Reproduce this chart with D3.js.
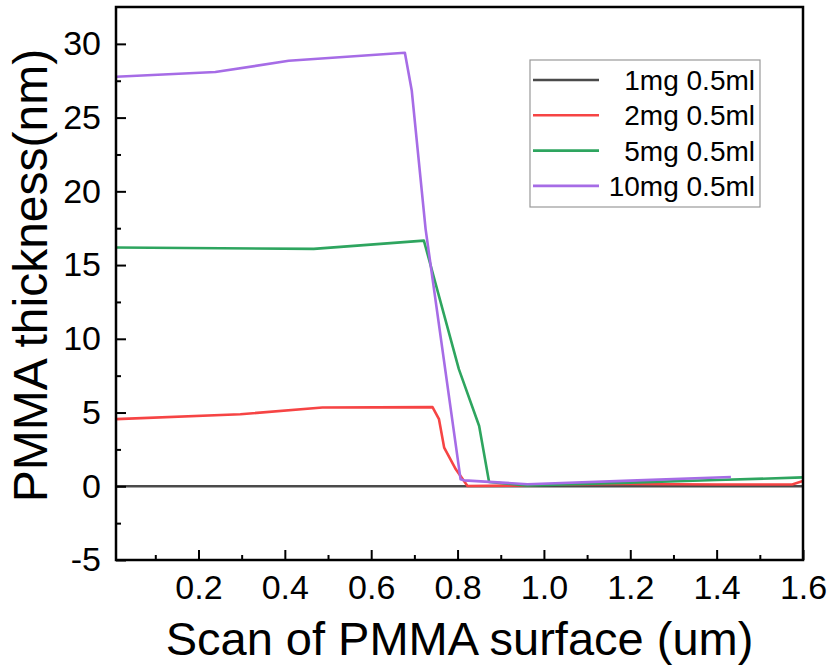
<!DOCTYPE html>
<html>
<head>
<meta charset="utf-8">
<script src="https://cdn.jsdelivr.net/npm/d3@7"></script>
<style>
  body { margin: 0; background: #fff; }
  text { font-family: "Liberation Sans", Arial, sans-serif; fill: #000; }
</style>
</head>
<body>
<div id="vis"></div>
<script>
var width  = 832;
var height = 666;
var margin = { top: 7, right: 29, bottom: 106, left: 116 };
var w = width - margin.left - margin.right;
var h = height - margin.top - margin.bottom;

// series: [scan position (um), thickness (nm)]
var names  = ["1mg 0.5ml", "2mg 0.5ml", "5mg 0.5ml", "10mg 0.5ml"];
var colors = ["#4a4a4a", "#f64444", "#2ea55f", "#a66ce6"];

var s1mg = [[0.009, 0], [0.5, 0], [1.0, 0], [1.6, 0]];
var s2mg = [[0.009, 4.55], [0.297, 4.88], [0.487, 5.34], [0.742, 5.37], [0.757, 4.55],
            [0.769, 2.62], [0.796, 1.15], [0.823, 0.02], [0.95, 0.05], [1.0, 0.12],
            [1.2, 0.15], [1.4, 0.12], [1.575, 0.12], [1.6, 0.36]];
var s5mg = [[0.009, 16.19], [0.467, 16.1], [0.722, 16.66], [0.803, 7.94], [0.850, 4.09],
            [0.873, 0.29], [0.96, 0.05], [1.2, 0.25], [1.4, 0.42], [1.6, 0.6]];
var s10mg = [[0.009, 27.77], [0.239, 28.09], [0.409, 28.85], [0.678, 29.4], [0.694, 26.82],
             [0.726, 17.44], [0.807, 0.47], [0.815, 0.4], [0.962, 0.14], [1.2, 0.38], [1.433, 0.63]];
var series = [s1mg, s2mg, s5mg, s10mg];

var xMajor = [0.2, 0.4, 0.6, 0.8, 1.0, 1.2, 1.4, 1.6];
var xMinor = [0.1, 0.3, 0.5, 0.7, 0.9, 1.1, 1.3, 1.5];
var yMajor = [-5, 0, 5, 10, 15, 20, 25, 30];
var yMinor = [-2.5, 2.5, 7.5, 12.5, 17.5, 22.5, 27.5];

var x = d3.scaleLinear().domain([0.009, 1.6]).range([0, w]);
var y = d3.scaleLinear().domain([-5, 32.5]).range([h, 0]);

var svg = d3.select("#vis").append("svg")
  .attr("width", width)
  .attr("height", height);

var g = svg.append("g")
  .attr("transform", "translate(" + margin.left + "," + margin.top + ")");

g.append("clipPath").attr("id", "clip")
  .append("rect").attr("width", w).attr("height", h);

var line = d3.line()
  .x(function(d) { return x(d[0]); })
  .y(function(d) { return y(d[1]); });

g.append("g").attr("clip-path", "url(#clip)")
  .selectAll("path")
  .data(series)
  .enter().append("path")
  .attr("d", line)
  .attr("fill", "none")
  .attr("stroke", function(d, i) { return colors[i]; })
  .attr("stroke-width", 2.6)
  .attr("stroke-linejoin", "round");

// axes, ticks pointing inward
g.append("g")
  .attr("transform", "translate(0," + h + ")")
  .call(d3.axisBottom(x).tickValues(xMajor).tickFormat(d3.format(".1f"))
    .tickSizeInner(-10).tickSizeOuter(0).tickPadding(15));
g.append("g")
  .attr("transform", "translate(0," + h + ")")
  .call(d3.axisBottom(x).tickValues(xMinor).tickFormat("")
    .tickSizeInner(-5).tickSizeOuter(0));

g.append("g")
  .call(d3.axisLeft(y).tickValues(yMajor).tickFormat(function(d) { return String(d); })
    .tickSizeInner(-10).tickSizeOuter(0).tickPadding(15));
g.append("g")
  .call(d3.axisLeft(y).tickValues(yMinor).tickFormat("")
    .tickSizeInner(-5).tickSizeOuter(0));

g.selectAll(".tick line").attr("stroke", "#000").attr("stroke-width", 2);
g.selectAll(".domain").remove();
g.selectAll(".tick text").style("font-size", "34px").attr("fill", "#000");

// frame
g.append("rect")
  .attr("width", w).attr("height", h)
  .attr("fill", "none")
  .attr("stroke", "#000")
  .attr("stroke-width", 2.5);

// axis titles
svg.append("text")
  .attr("x", margin.left + w / 2)
  .attr("y", 655)
  .attr("text-anchor", "middle")
  .style("font-size", "47px")
  .text("Scan of PMMA surface (um)");

svg.append("text")
  .attr("transform", "translate(47," + (margin.top + h / 2 - 8) + ") rotate(-90)")
  .attr("text-anchor", "middle")
  .style("font-size", "48px")
  .text("PMMA thickness(nm)");

// legend
var lg = g.append("g").attr("transform", "translate(" + (530 - margin.left) + "," + (60 - margin.top) + ")");
lg.append("rect")
  .attr("width", 230).attr("height", 147)
  .attr("fill", "#fff")
  .attr("stroke", "#999")
  .attr("stroke-width", 1.2);

var row = lg.selectAll("g.row")
  .data(names)
  .enter().append("g")
  .attr("class", "row")
  .attr("transform", function(d, i) { return "translate(0," + (20 + i * 35.3) + ")"; });

row.append("line")
  .attr("x1", 3).attr("x2", 69)
  .attr("stroke", function(d, i) { return colors[i]; })
  .attr("stroke-width", 2.6);

row.append("text")
  .attr("x", 225)
  .attr("y", 10)
  .attr("text-anchor", "end")
  .style("font-size", "28px")
  .text(function(d) { return d; });
</script>
</body>
</html>
